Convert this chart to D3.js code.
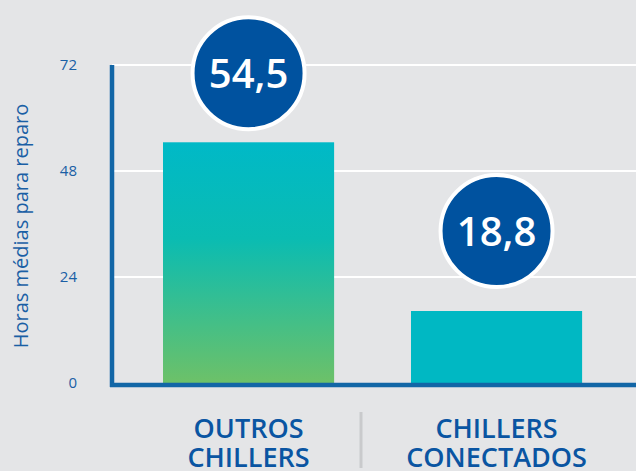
<!DOCTYPE html>
<html><head><meta charset="utf-8">
<script src="https://cdn.jsdelivr.net/npm/d3@7"></script>
<style>html,body{margin:0;padding:0;background:#e4e5e7;}svg{display:block;}</style>
</head><body>
<script>
const categories = [["OUTROS","CHILLERS"],["CHILLERS","CONECTADOS"]];
const barValues = [54.5, 16.3];
const labelValues = [54.5, 18.8];
const labelTexts = ["54,5", "18,8"];
const yTicks = [0, 24, 48, 72];
const yTitle = "Horas médias para reparo";

const W = 636, H = 471;
const svg = d3.select("body").append("svg").attr("width", W).attr("height", H);
svg.append("rect").attr("width", W).attr("height", H).attr("fill", "#e4e5e7");

const x = d3.scaleBand().domain([0,1]).range([113.4, 631.7]).paddingInner(0.31).paddingOuter(0.2);
const y = d3.scaleLinear().domain([0, 72]).range([383, 65]);
const axX = 112;

const defs = svg.append("defs");
const g1 = defs.append("linearGradient").attr("id","g1").attr("x1",0).attr("y1",0).attr("x2",0).attr("y2",1);
g1.append("stop").attr("offset","0%").attr("stop-color","#00b9c7");
g1.append("stop").attr("offset","40%").attr("stop-color","#0abcb2");
g1.append("stop").attr("offset","100%").attr("stop-color","#6dc168");

// gridlines
svg.selectAll(".grid").data(yTicks.filter(d=>d>0)).join("line")
  .attr("x1", axX).attr("x2", W).attr("y1", d=>y(d)).attr("y2", d=>y(d))
  .attr("stroke", "#ffffff").attr("stroke-width", 2);

// bars
svg.selectAll(".bar").data(barValues).join("rect")
  .attr("x", (d,i)=>x(i)).attr("width", x.bandwidth())
  .attr("y", d=>y(d)).attr("height", d=>y(0)-y(d))
  .attr("fill", (d,i)=> i===0 ? "url(#g1)" : "#00b8c3");

// axes lines
svg.append("line").attr("x1", axX).attr("x2", axX).attr("y1", y(72)).attr("y2", y(0)+4)
  .attr("stroke", "#1266a6").attr("stroke-width", 4.5);
svg.append("line").attr("x1", axX-2).attr("x2", W).attr("y1", y(0)+2).attr("y2", y(0)+2)
  .attr("stroke", "#1266a6").attr("stroke-width", 4.5);

// y ticks
const yAxis = d3.axisLeft(y).tickValues(yTicks).tickSize(0).tickPadding(0);
const ya = svg.append("g").attr("transform", `translate(77,0)`).call(yAxis);
ya.select(".domain").remove();
ya.selectAll("text").attr("font-family","'Open Sans', sans-serif").attr("font-size",15)
  .attr("font-weight",400).attr("fill","#1a5fa5");

// y title
svg.append("text").attr("transform", `translate(28,226) rotate(-90)`)
  .attr("text-anchor","middle").attr("font-family","'Open Sans', sans-serif")
  .attr("font-size",20).attr("fill","#1a5fa5").text(yTitle);

// circles
const cg = svg.selectAll(".lbl").data(labelValues).join("g")
  .attr("transform", (d,i)=>`translate(${x(i)+x.bandwidth()/2},${y(d)-69})`);
cg.append("circle").attr("r", 56).attr("fill", "#00529f").attr("stroke","#ffffff").attr("stroke-width",4);
cg.append("text").attr("text-anchor","middle").attr("dy", 15)
  .attr("font-family","'Open Sans', sans-serif").attr("font-size",40).attr("font-weight",600)
  .attr("fill","#ffffff").text((d,i)=>labelTexts[i]);

// category labels
const cat = svg.selectAll(".cat").data(categories).join("text")
  .attr("text-anchor","middle").attr("font-family","'Open Sans', sans-serif")
  .attr("font-size",27).attr("font-weight",600).attr("fill","#0a55a2");
cat.each(function(d,i){
  const t = d3.select(this);
  d.forEach((line,j)=>{
    t.append("tspan").attr("x", x(i)+x.bandwidth()/2).attr("y", 438 + j*29).text(line);
  });
});

// separator
svg.append("line").attr("x1", 361).attr("x2", 361).attr("y1", 412).attr("y2", 468)
  .attr("stroke", "#c9cacc").attr("stroke-width", 3);
</script>
</body></html>
